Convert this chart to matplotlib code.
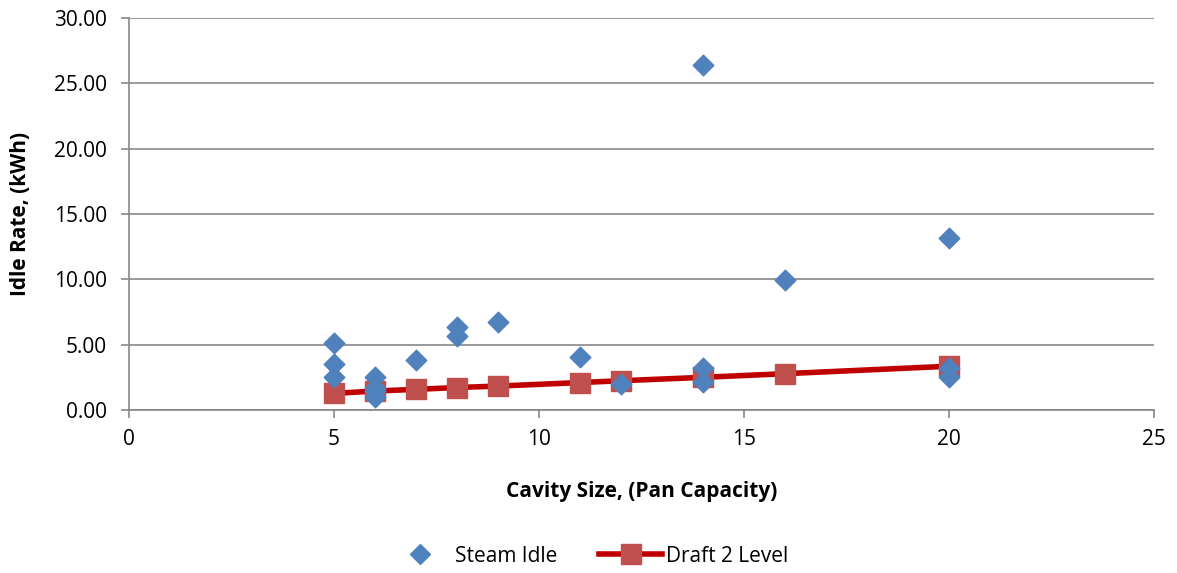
import matplotlib.pyplot as plt
from matplotlib.lines import Line2D

# Steam Idle scatter
steam_x = [5, 5, 5, 6, 6, 6, 6, 7, 8, 8, 9, 11, 12, 14, 14, 14, 16, 20, 20, 20]
steam_y = [5.13, 3.5, 2.55, 2.5, 1.7, 1.45, 1.0, 3.8, 6.35, 5.65, 6.7, 4.03, 2.0, 26.4, 3.2, 2.17, 9.95, 13.15, 3.2, 2.55]

# Draft 2 Level line
draft_x = [5, 6, 7, 8, 9, 11, 12, 14, 16, 20]
draft_y = [1.27, 1.45, 1.58, 1.72, 1.83, 2.1, 2.24, 2.5, 2.78, 3.35]

plt.rcParams['font.family'] = ['Open Sans', 'DejaVu Sans']

fig = plt.figure(figsize=(11.77, 5.73), dpi=100)
ax = fig.add_axes([129/1177, 1 - 410/573, (1154-129)/1177, (410-18)/573])

ax.plot(draft_x, draft_y, color='#C00000', lw=4, marker='s', markersize=15,
        markerfacecolor='#C0504D', markeredgecolor='#C0504D', zorder=3)
ax.scatter(steam_x, steam_y, marker='D', s=110, color='#4F81BD', zorder=4)

ax.set_xlim(0, 25)
ax.set_ylim(0, 30)
ax.set_xticks([0, 5, 10, 15, 20, 25])
ax.set_yticks([0, 5, 10, 15, 20, 25, 30])
ax.set_yticklabels(['%.2f' % v for v in [0, 5, 10, 15, 20, 25, 30]])
ax.grid(axis='y', color='#878787', lw=1.2)
ax.set_axisbelow(True)
for s in ['top', 'right']:
    ax.spines[s].set_visible(False)
for s in ['left', 'bottom']:
    ax.spines[s].set_color('#878787')
    ax.spines[s].set_linewidth(1.2)
ax.tick_params(colors='#878787', labelcolor='black', labelsize=15, length=6, width=1.2)
ax.tick_params(axis='y', pad=10)
ax.tick_params(axis='x', pad=8)

ax.set_xlabel('Cavity Size, (Pan Capacity)', fontsize=15, fontweight='bold', labelpad=22)
ax.set_ylabel('Idle Rate, (kWh)', fontsize=15, fontweight='bold', labelpad=16)

handles = [
    Line2D([], [], ls='none', marker='D', color='#4F81BD', markersize=10),
    Line2D([], [], color='#C00000', lw=4, marker='s', markersize=15,
           markerfacecolor='#C0504D', markeredgecolor='#C0504D'),
]
fig.legend(handles, ['Steam Idle', 'Draft 2 Level'], loc='center', bbox_to_anchor=(0.5, 1 - 556/573),
           ncol=2, frameon=False, fontsize=15, handlelength=3, handletextpad=0.2, columnspacing=2)

fig.savefig('out.png', dpi=100)
